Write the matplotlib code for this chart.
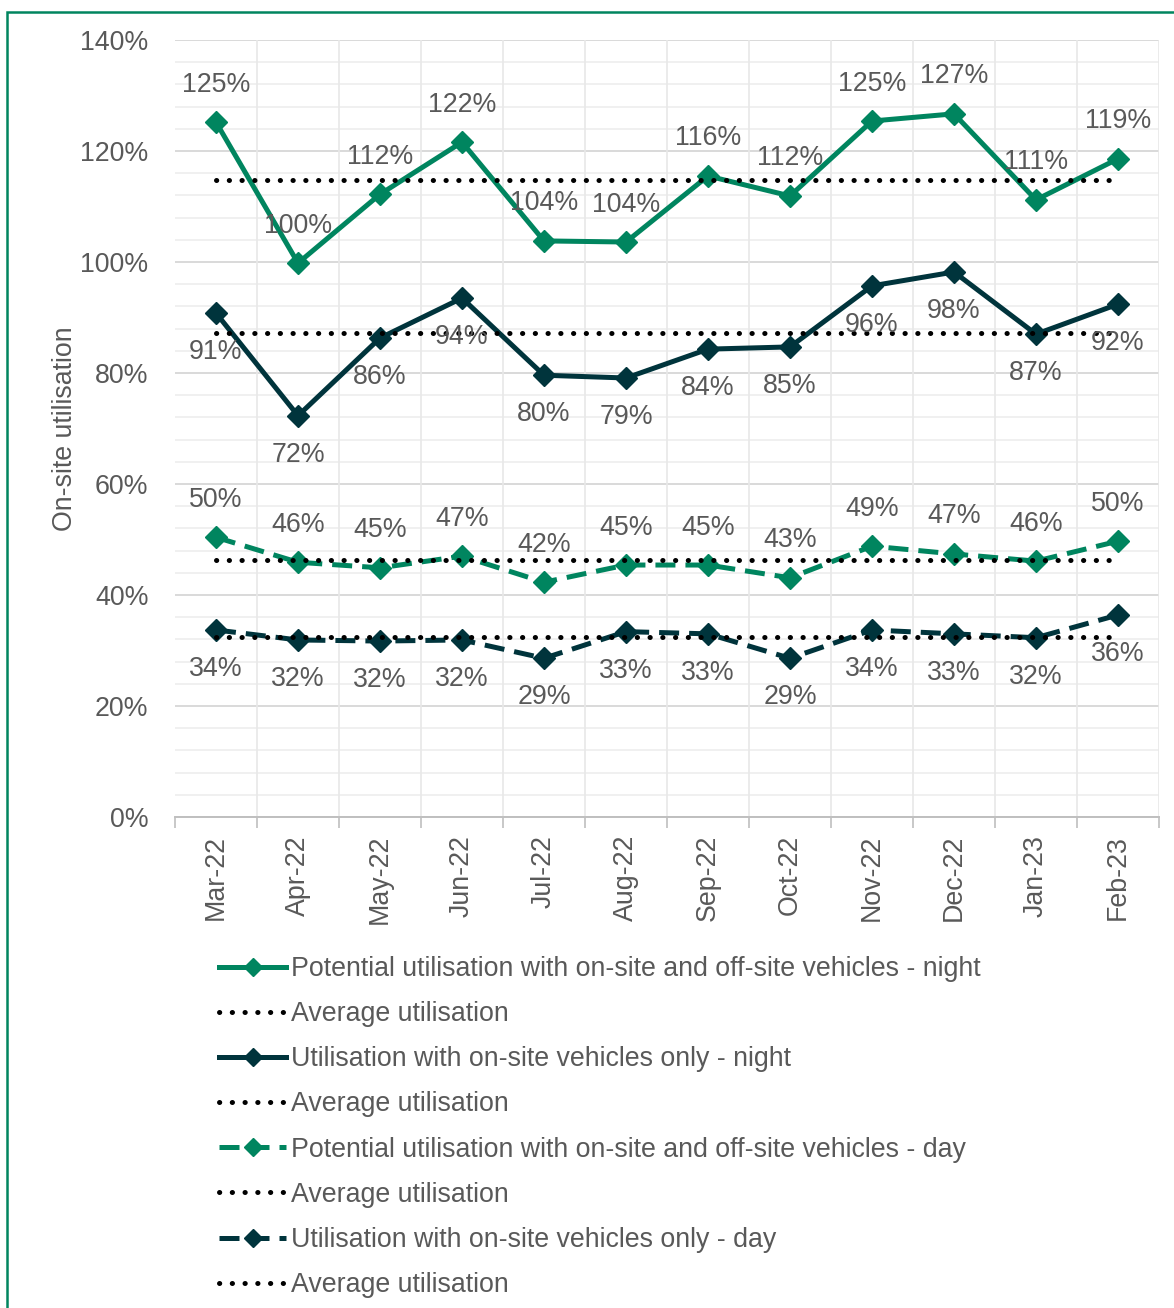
import matplotlib.pyplot as plt
from matplotlib.patches import Rectangle
from matplotlib.lines import Line2D

plt.rcParams['font.family'] = ['Liberation Sans', 'DejaVu Sans']

months = ['Mar-22', 'Apr-22', 'May-22', 'Jun-22', 'Jul-22', 'Aug-22',
          'Sep-22', 'Oct-22', 'Nov-22', 'Dec-22', 'Jan-23', 'Feb-23']

potential_night = [125.2, 99.8, 112.2, 121.6, 103.8, 103.6, 115.5, 111.9, 125.4, 126.7, 111.2, 118.6]
onsite_night = [90.8, 72.3, 86.3, 93.5, 79.6, 79.1, 84.3, 84.7, 95.7, 98.2, 87.0, 92.4]
potential_day = [50.4, 45.9, 44.9, 47.0, 42.3, 45.4, 45.4, 43.1, 48.8, 47.4, 46.1, 49.7]
onsite_day = [33.7, 31.9, 31.7, 31.9, 28.6, 33.4, 33.0, 28.6, 33.7, 33.0, 32.3, 36.4]

avg_potential_night = 114.8
avg_onsite_night = 87.2
avg_potential_day = 46.3
avg_onsite_day = 32.4

GREEN = '#00855F'
DARK = '#00343C'
TEXT = '#595959'
FS = 19.3

fig = plt.figure(figsize=(11.74, 13.08), dpi=100)
ax = fig.add_axes([175 / 1174, 1 - 817 / 1308, (1159 - 175) / 1174, (817 - 40) / 1308])

# green frame round the whole figure
fig.patches.append(Rectangle((7 / 1174, -0.1), 1.2, 1.1 - 12 / 1308,
                             transform=fig.transFigure, fill=False,
                             edgecolor=GREEN, linewidth=1.8))

x = list(range(len(months)))

# gridlines
for v in range(0, 141, 4):
    major = v % 20 == 0
    ax.axhline(v, color='#d9d9d9' if major else '#eeeeee', lw=1.4 if major else 1.2, zorder=0)
for b in range(1, 13):
    ax.axvline(b - 0.5, color='#e8e8e8', lw=1.2, zorder=0)

series = [
    (potential_night, avg_potential_night, GREEN, '-', 'Potential utilisation with on-site and off-site vehicles - night', 'above'),
    (onsite_night, avg_onsite_night, DARK, '-', 'Utilisation with on-site vehicles only - night', 'below'),
    (potential_day, avg_potential_day, GREEN, (0, (4, 2)), 'Potential utilisation with on-site and off-site vehicles - day', 'above'),
    (onsite_day, avg_onsite_day, DARK, (0, (4, 2)), 'Utilisation with on-site vehicles only - day', 'below'),
]

dot_style = (0, (0.05, 2.5))
handles = []
labels = []
for vals, avg, col, ls, name, pos in series:
    ax.plot(x, vals, color=col, lw=3.6, ls=ls, marker='D', ms=11.5, zorder=3)
    ax.plot([x[0], x[-1]], [avg, avg], color='black', lw=3.6, ls=dot_style,
            dash_capstyle='round', zorder=4)
    for xi, v in zip(x, vals):
        off = 27 if pos == 'above' else -28
        ax.annotate(f'{round(v)}%', (xi, v), xytext=(0, off), textcoords='offset points',
                    ha='center', va='center', fontsize=FS, color=TEXT, zorder=5)
    handles.append(Line2D([], [], color=col, lw=3.6, ls=ls, marker='D', ms=9))
    labels.append(name)
    handles.append(Line2D([], [], color='black', lw=3.6, ls=dot_style, dash_capstyle='round'))
    labels.append('Average utilisation')

ax.set_xlim(-0.5, 11.5)
ax.set_ylim(0, 140)
ax.set_yticks(range(0, 141, 20))
ax.set_yticklabels([f'{v}%' for v in range(0, 141, 20)], fontsize=FS, color=TEXT)
ax.set_xticks(x)
ax.set_xticklabels(months, rotation=90, fontsize=FS, color=TEXT)
ax.set_xticks([b - 0.5 for b in range(13)], minor=True)
ax.tick_params(axis='x', which='major', length=0, pad=13)
ax.tick_params(axis='x', which='minor', length=8, color='#bfbfbf', width=1.2)
ax.tick_params(axis='y', length=0, pad=19)
for s in ['top', 'right', 'left']:
    ax.spines[s].set_visible(False)
ax.spines['bottom'].set_color('#bfbfbf')
ax.spines['bottom'].set_linewidth(1.4)
ax.set_ylabel('On-site utilisation', fontsize=FS, color=TEXT, labelpad=2)

fig.legend(handles, labels, loc='upper left', bbox_to_anchor=(219 / 1174, 1 - 956 / 1308),
           frameon=False, fontsize=FS, labelcolor=TEXT, handlelength=2.5,
           handletextpad=0.2, labelspacing=0.715, borderpad=0, borderaxespad=0)

fig.savefig('out.png', dpi=100)
